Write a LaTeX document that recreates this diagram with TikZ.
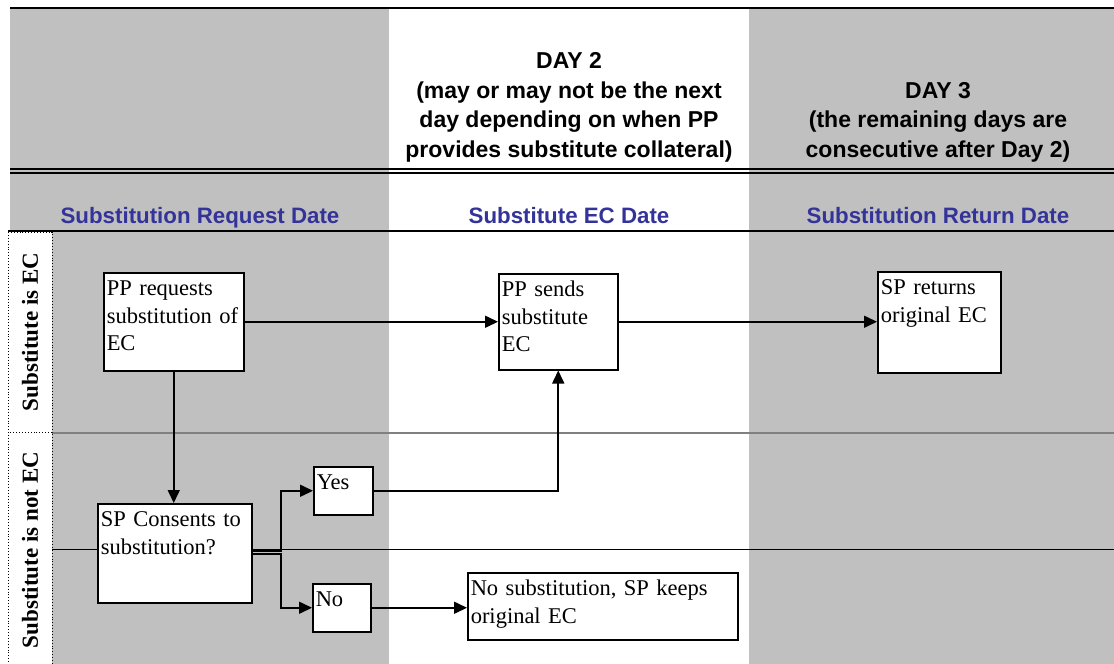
\documentclass[tikz,border=0pt]{standalone}
\usepackage{fontspec}
\setmainfont{Liberation Serif}
\setsansfont{Liberation Sans}
\usepackage{tikz}
\usetikzlibrary{
	arrows.meta,
	positioning
}
\definecolor{colgray}{HTML}{C0C0C0}
\definecolor{rulegray}{HTML}{808080}
\definecolor{dateblue}{HTML}{333399}
\tikzset{
	box/.style={
		draw, fill=white, line width=1.5pt, anchor=north west,
		align=left, inner xsep=3pt, inner ysep=7pt, text height=16pt,
		font=\fontsize{22.5}{27.5}\selectfont
	},
	lane/.style={
		draw, dotted, line width=0.9pt, fill=white, rotate=90,
		minimum height=44pt, inner sep=0pt,
		font=\bfseries\fontsize{23}{28}\selectfont
	},
	dayhead/.style={
		anchor=base, align=center, inner sep=0pt,
		font=\sffamily\bfseries\fontsize{23}{29.5}\selectfont
	},
	datehead/.style={
		anchor=base, inner sep=0pt, text=dateblue,
		font=\sffamily\bfseries\fontsize{22.3}{29}\selectfont
	},
	flow/.style={
		line width=1.6pt, -{Triangle[length=13pt,width=12pt]}
	},
	every edge/.append style={
		flow
	}
}
\begin{document}
\begin{tikzpicture}[x=1pt,y=-1pt]
	\useasboundingbox (0,0) rectangle (1114,664);
	% shaded day columns
	\fill[colgray] (10,8) rectangle (389,231);
	\fill[colgray] (52,231) rectangle (389,664);
	\fill[colgray] (749,8) rectangle (1114,664);
	% header rules
	\draw[line width=2.5pt] (10,8) -- (1114,8);
	\draw[line width=2.2pt] (10,169.3) -- (1114,169.3);
	\draw[line width=2.2pt] (10,172.8) -- (1114,172.8);
	\draw[line width=2pt] (8,230.5) -- (1114,230.5);
	% lane rules
	\draw[rulegray, line width=2.5pt] (52,433) -- (1114,433);
	\draw[line width=1pt] (52,549) -- (1114,549);

	% headers (base = last line)
	\node[dayhead] (day2) at (569,157) {DAY 2\\(may or may not be the next\\day depending on when PP\\provides substitute collateral)};
	\node[dayhead] (day3) at (938,157) {DAY 3\\(the remaining days are\\consecutive after Day 2)};
	\node[datehead] (reqdate) at (200,223) {Substitution Request Date};
	\node[datehead] (ecdate)  at (569,223) {Substitute EC Date};
	\node[datehead] (retdate) at (938,223) {Substitution Return Date};

	% swimlanes
	\node[lane, minimum width=200pt] (laneec)    at (30,332) {Substitute is EC};
	\node[lane, minimum width=236pt] (lanenotec) at (30,550) {Substitute is not EC};

	\coordinate (forka) at (281,551);
	\coordinate (forkb) at (281,554);

	\draw
		node [box, text width=134pt, text depth=68pt] (request)  at (103,272) {PP requests\\substitution~of\\EC}
		node [box, text width=113pt, text depth=66pt] (sends)    at (498,273) {PP sends\\substitute\\EC}
		node [box, text width=117pt, text depth=71pt] (returns)  at (877,271) {SP returns\\original EC}
		node [box, text width=148pt, text depth=69pt] (consents) at (97,503)  {SP Consents to\\substitution?}
		node [box, text width=53pt,  text depth=18pt] (yes)      at (313,466) {Yes}
		node [box, text width=52pt,  text depth=18pt] (no)       at (312,583) {No}
		node [box, text width=264pt, text depth=37pt] (keeps)    at (467,572) {No substitution, SP keeps\\original EC}

		(request) edge (sends)
		(sends.east) edge (sends.east -| returns.west)
		(no.east)    edge (no.east -| keeps.west)
	;
	\draw[flow] (request.south) -- (request.south |- consents.north);
	\draw[flow] (consents.east |- forka) -- (forka) |- (yes);
	\draw[flow] (consents.east |- forkb) -- (forkb) |- (no);
	\draw[flow] (yes) -| (sends);
\end{tikzpicture}
\end{document}
